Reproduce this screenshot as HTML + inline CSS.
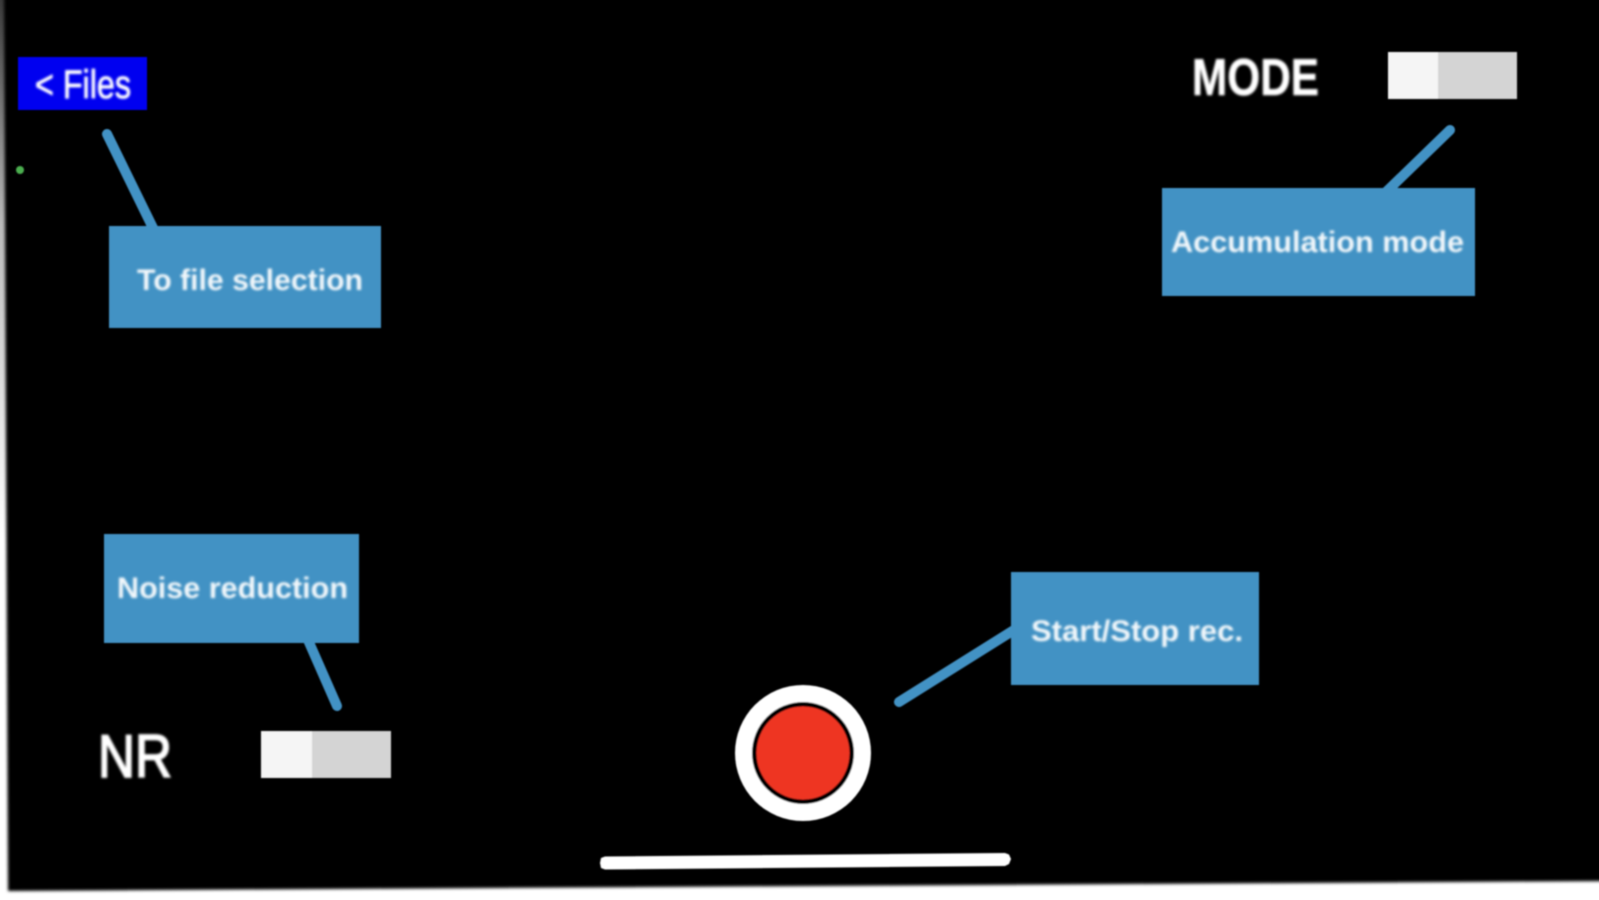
<!DOCTYPE html>
<html lang="en">
<head>
<meta charset="utf-8">
<title>Recording screen annotations</title>
<style>
html,body{margin:0;padding:0;background:#fff;width:1599px;height:900px;overflow:hidden}
svg{display:block}
text{font-family:"Liberation Sans",sans-serif;fill:#fff}
</style>
</head>
<body>
<svg width="1599" height="900" viewBox="0 0 1599 900" xmlns="http://www.w3.org/2000/svg">
<defs>
<filter id="b1" x="-5%" y="-20%" width="110%" height="140%"><feGaussianBlur stdDeviation="1.25"/></filter>
<filter id="b2" x="-5%" y="-20%" width="110%" height="140%"><feGaussianBlur stdDeviation="0.9"/></filter>
<filter id="edge" x="-2%" y="-2%" width="104%" height="104%"><feGaussianBlur stdDeviation="1.6"/></filter>
<linearGradient id="lg" x1="0" y1="0" x2="0" y2="1">
<stop offset="0" stop-color="#3a3a3a"/><stop offset="0.25" stop-color="#bbbbbb"/><stop offset="0.6" stop-color="#ffffff"/>
</linearGradient>
</defs>
<rect x="0" y="0" width="12" height="900" fill="url(#lg)"/>
<polygon points="4,-10 1620,-10 1620,881 8,891" fill="#000" filter="url(#edge)"/>

<g filter="url(#b2)">
<rect x="18" y="57" width="129" height="53" fill="#0000f0"/>
<rect x="1388" y="52" width="50" height="47" fill="#f5f5f5"/>
<rect x="1438" y="52" width="79" height="47" fill="#d4d4d4"/>
<rect x="261" y="731" width="51" height="47" fill="#f5f5f5"/>
<rect x="312" y="731" width="79" height="47" fill="#d4d4d4"/>

<g stroke="#4292c4" stroke-width="10" stroke-linecap="round">
<line x1="107" y1="134" x2="153" y2="228"/>
<line x1="1450" y1="130" x2="1385" y2="193"/>
<line x1="308" y1="640" x2="337" y2="706"/>
<line x1="1014" y1="630" x2="899" y2="702"/>
</g>

<rect x="109" y="226" width="272" height="102" fill="#4292c4"/>
<rect x="1162" y="188" width="313" height="108" fill="#4292c4"/>
<rect x="104" y="534" width="255" height="109" fill="#4292c4"/>
<rect x="1011" y="572" width="248" height="113" fill="#4292c4"/>

<circle cx="20" cy="170" r="4" fill="#4caf50"/>

<circle cx="803" cy="753" r="68" fill="#fff"/>
<circle cx="803" cy="753" r="51" fill="#000"/>
<circle cx="803" cy="753" r="46.5" fill="#ee3524"/>

<polygon points="605,856.5 1005,853 1009,854.5 1011,859 1009,864 1005,866 605,869.5 601,868 600,863 601,858" fill="#fff"/>
</g>

<g filter="url(#b1)">
<text x="35" y="98" font-size="40" stroke="#fff" stroke-width="0.8" textLength="96" lengthAdjust="spacingAndGlyphs">&lt; Files</text>
<text x="1192" y="95" font-size="52" font-weight="700" stroke="#fff" stroke-width="0.5" textLength="127" lengthAdjust="spacingAndGlyphs">MODE</text>
<text x="98" y="777" font-size="60" stroke="#fff" stroke-width="1.8" textLength="74" lengthAdjust="spacingAndGlyphs">NR</text>
<g opacity="0.93">
<text x="137" y="290" font-size="30" font-weight="700" textLength="226" lengthAdjust="spacingAndGlyphs">To file selection</text>
<text x="1171" y="252" font-size="30" font-weight="700" textLength="293" lengthAdjust="spacingAndGlyphs">Accumulation mode</text>
<text x="117" y="598" font-size="30" font-weight="700" textLength="231" lengthAdjust="spacingAndGlyphs">Noise reduction</text>
<text x="1031" y="641" font-size="30" font-weight="700" textLength="212" lengthAdjust="spacingAndGlyphs">Start/Stop rec.</text>
</g>
</g>
</svg>
</body>
</html>
